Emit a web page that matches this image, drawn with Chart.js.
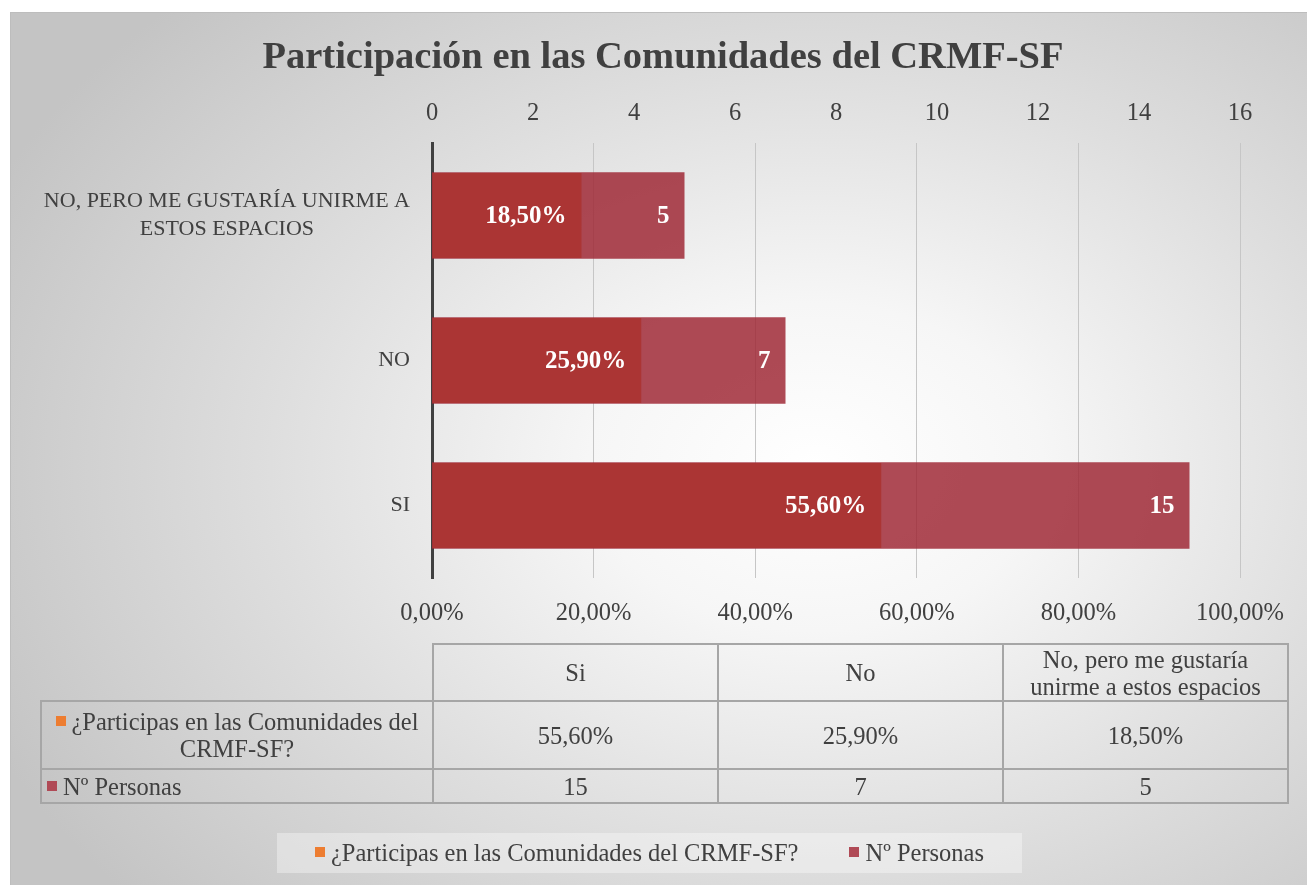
<!DOCTYPE html>
<html>
<head>
<meta charset="utf-8">
<script src="https://cdn.jsdelivr.net/npm/chart.js@4/dist/chart.umd.min.js"></script>
<style>
  html, body { margin: 0; padding: 0; background: #ffffff; }
  #marco {
    position: absolute; left: 10px; top: 12px; width: 1297px; height: 873px;
    border-top: 1px solid #bdbdbd; border-left: 1px solid #bdbdbd;
    background: radial-gradient(ellipse 70% 75% at 62% 52%, #ffffff 0%, #f6f6f6 25%, #dedede 60%, #c4c4c4 100%);
  }
  #grafico { position: absolute; left: 0; top: 0; }
  #titulo {
    position: absolute; left: 0; width: 1326px; top: 33px; text-align: center;
    font: bold 38.5px 'Liberation Serif', serif; color: #404040;
  }
  #tabla {
    position: absolute; left: 40px; top: 643px; width: 1249px; border-collapse: collapse;
    table-layout: fixed; font: 24.5px 'Liberation Serif', serif; color: #404040;
  }
  #tabla td { border: 2px solid #a6a6a6; text-align: center; padding: 0 2px; line-height: 27px; overflow: hidden; }
  #tabla td.vacia { border-top: none; border-left: none; }
  .cuadro { display: inline-block; width: 10px; height: 10px; margin-right: 6px; vertical-align: 4px; }
  #leyenda {
    position: absolute; left: 277px; top: 833px; width: 745px; height: 40px;
    background: rgba(255,255,255,0.35); font: 24.5px 'Liberation Serif', serif; color: #404040;
    display: flex; align-items: center; justify-content: center; gap: 51px;
  }
</style>
</head>
<body>
<div id="marco"></div>
<canvas id="grafico" width="1307" height="885"></canvas>
<div id="titulo">Participación en las Comunidades del CRMF-SF</div>
<table id="tabla"></table>
<div id="leyenda"></div>
<script>
// Données du graphique
const CATEGORIAS   = ['Si', 'No', 'No, pero me gustaría unirme a estos espacios'];
const PORCENTAJES  = [55.6, 25.9, 18.5];
const PERSONAS     = [15, 7, 5];
const SERIES       = ['¿Participas en las Comunidades del CRMF-SF?', 'Nº Personas'];
const TICKS_CONTEO = [0, 2, 4, 6, 8, 10, 12, 14, 16];
const TICKS_PORC   = [0, 20, 40, 60, 80, 100];

const NARANJA = '#ED7D31';
const ROJO    = 'rgba(158, 39, 52, 0.84)';
const ROJO_LEYENDA = '#B04A56';
const GRIS_TEXTO = '#404040';
const FUENTE = "'Liberation Serif', serif";

function formatoPorc(v) {
    return v.toFixed(2).replace('.', ',') + '%';
}

// Coupe les libellés longs de l'axe vertical
function lineasCategoria(txt) {
    const t = txt.toUpperCase();
    if (t.length < 20) return [t];
    return ['NO, PERO ME GUSTARÍA UNIRME A', 'ESTOS ESPACIOS'];
}

// Libellés de l'axe vertical : bloc aligné à droite, lignes centrées
const etiquetasY = {
    id: 'etiquetasY',
    afterDraw(chart) {
        const ctx = chart.ctx;
        const escala = chart.scales.y;
        ctx.save();
        ctx.font = '22px ' + FUENTE;
        ctx.fillStyle = GRIS_TEXTO;
        ctx.textAlign = 'center';
        ctx.textBaseline = 'middle';
        CATEGORIAS.forEach((c, i) => {
            const lineas = lineasCategoria(c);
            const ancho = Math.max(...lineas.map(l => ctx.measureText(l).width));
            const xc = escala.right - 22 - ancho / 2;
            const yc = escala.getPixelForTick(i);
            const alto = 28;
            lineas.forEach((l, k) => {
                ctx.fillText(l, xc, yc + (k - (lineas.length - 1) / 2) * alto);
            });
        });
        ctx.restore();
    }
};

// Étiquettes blanches à l'intérieur des barres
const etiquetasBarras = {
    id: 'etiquetasBarras',
    afterDatasetsDraw(chart) {
        const ctx = chart.ctx;
        ctx.save();
        ctx.font = 'bold 25px ' + FUENTE;
        ctx.fillStyle = '#ffffff';
        ctx.textAlign = 'right';
        ctx.textBaseline = 'middle';
        chart.data.datasets.forEach((ds, d) => {
            const meta = chart.getDatasetMeta(d);
            meta.data.forEach((barra, i) => {
                const v = ds.data[i];
                const txt = d === 0 ? formatoPorc(v) : String(v);
                ctx.fillText(txt, barra.x - 15, barra.y + 1);
            });
        });
        ctx.restore();
    }
};

new Chart(document.getElementById('grafico'), {
    type: 'bar',
    data: {
        labels: CATEGORIAS,
        datasets: [
            {
                label: SERIES[0],
                data: PORCENTAJES,
                xAxisID: 'xPorc',
                backgroundColor: NARANJA,
                order: 1,
                grouped: false,
                barPercentage: 0.585,
                categoryPercentage: 1
            },
            {
                label: SERIES[1],
                data: PERSONAS,
                xAxisID: 'xConteo',
                backgroundColor: ROJO,
                order: 0,
                grouped: false,
                barPercentage: 0.595,
                categoryPercentage: 1
            }
        ]
    },
    options: {
        indexAxis: 'y',
        responsive: false,
        animation: false,
        layout: { padding: { left: 10, right: 67, top: 80, bottom: 247 } },
        plugins: {
            legend: { display: false },
            title: { display: false },
            tooltip: { enabled: false }
        },
        scales: {
            y: {
                reverse: true,
                ticks: { display: false },
                grid: { display: false },
                border: { display: true, color: '#404040', width: 3 },
                afterFit(s) { s.width = 422; }
            },
            xPorc: {
                position: 'bottom',
                min: 0, max: 100,
                afterBuildTicks(s) { s.ticks = TICKS_PORC.map(v => ({ value: v })); },
                ticks: {
                    callback: v => formatoPorc(v),
                    color: GRIS_TEXTO,
                    font: { family: FUENTE, size: 24.5 },
                    padding: 21,
                    maxRotation: 0
                },
                grid: { color: '#c6c6c6', lineWidth: 1, drawTicks: false },
                border: { display: false },
                afterFit(s) { s.height = 60; }
            },
            xConteo: {
                position: 'top',
                min: 0, max: 16,
                afterBuildTicks(s) { s.ticks = TICKS_CONTEO.map(v => ({ value: v })); },
                ticks: {
                    color: GRIS_TEXTO,
                    font: { family: FUENTE, size: 24.5 },
                    padding: 15,
                    maxRotation: 0
                },
                grid: { display: false, drawTicks: false },
                border: { display: false },
                afterFit(s) { s.height = 63; }
            }
        }
    },
    plugins: [etiquetasY, etiquetasBarras]
});

// Tableau de données sous le graphique
function construirTabla() {
    const tabla = document.getElementById('tabla');
    const anchos = [392, 285, 285, 285];
    let html = '<colgroup>' + anchos.map(a => '<col style="width:' + a + 'px">').join('') + '</colgroup>';
    html += '<tr style="height:57px"><td class="vacia"></td>';
    CATEGORIAS.forEach(c => { html += '<td>' + c + '</td>'; });
    html += '</tr>';
    html += '<tr style="height:68px"><td style="text-align:center"><span class="cuadro" style="background:' + NARANJA + '"></span>' + SERIES[0] + '</td>';
    PORCENTAJES.forEach(v => { html += '<td>' + formatoPorc(v) + '</td>'; });
    html += '</tr>';
    html += '<tr style="height:34px"><td style="text-align:left;padding-left:5px"><span class="cuadro" style="background:' + ROJO_LEYENDA + '"></span>' + SERIES[1] + '</td>';
    PERSONAS.forEach(v => { html += '<td>' + v + '</td>'; });
    html += '</tr>';
    tabla.innerHTML = html;

    const leyenda = document.getElementById('leyenda');
    leyenda.innerHTML =
        '<span><span class="cuadro" style="background:' + NARANJA + '"></span>' + SERIES[0] + '</span>' +
        '<span><span class="cuadro" style="background:' + ROJO_LEYENDA + '"></span>' + SERIES[1] + '</span>';
}
construirTabla();
</script>
</body>
</html>
